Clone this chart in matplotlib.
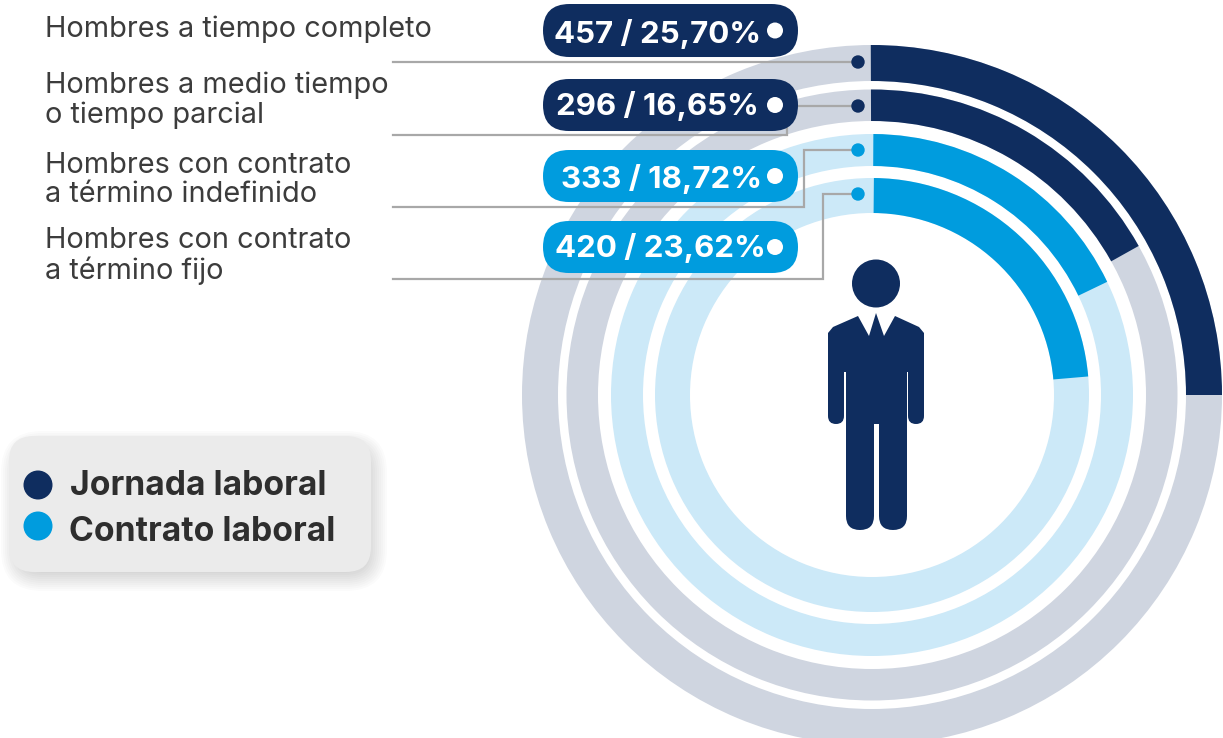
#!/usr/bin/env python
#-*- coding: utf-8 -*-

import matplotlib
matplotlib.use('Agg')
import matplotlib.pyplot as plt
from matplotlib.patches import Wedge, Circle, FancyBboxPatch, Polygon

# valeurs
lignes = ['Hombres a tiempo completo', 'Hombres a medio tiempo', 'o tiempo parcial',
	'Hombres con contrato', 'a término indefinido', 'Hombres con contrato', 'a término fijo']
lignes_y = [37, 93, 123, 173, 202, 248, 279]
textes_pastille = ['457 / 25,70%', '296 / 16,65%', '333 / 18,72%', '420 / 23,62%']
depart = [-0.2, -0.2, 0.3, 0.5]     # debut de chaque arc, en degres
balayage = [90.2, 61, 64, 84.6]     # angle dessine de chaque arc, en degres
legende = ['Jornada laboral', 'Contrato laboral']

MARINE = '#0F2D5F'
BLEU = '#009CDE'
GRIS = '#CFD5E0'
CIEL = '#CCE9F8'
TRAIT = '#A8A8A8'
POLICE = 'Inter'

couleurs_arc = [MARINE, MARINE, BLEU, BLEU]
couleurs_fond = [GRIS, GRIS, CIEL, CIEL]
rayons = [(350, 314), (305.5, 274), (261, 229), (217, 182)]
cx, cy = 872, 395

fig = plt.figure(figsize=(12.23, 7.38), dpi=100)
ax = fig.add_axes([0, 0, 1, 1])
ax.set_xlim(0, 1223)
ax.set_ylim(738, 0)
ax.axis('off')

# anneaux
for i in range(4):
	ext, inte = rayons[i]
	debut = -90+depart[i]
	ax.add_patch(Wedge((cx, cy), ext, 0, 360, width=ext-inte, color=couleurs_fond[i], lw=0, zorder=1))
	ax.add_patch(Wedge((cx, cy), ext, debut, debut+balayage[i], width=ext-inte, color=couleurs_arc[i], lw=0, zorder=2))

# traits de rappel
traits = [([393, 858], [62, 62]),
	([393, 787, 787, 858], [135, 135, 106, 106]),
	([393, 804, 804, 858], [207, 207, 150, 150]),
	([393, 823, 823, 858], [279, 279, 194, 194])]
for i in range(4):
	ax.plot(traits[i][0], traits[i][1], color=TRAIT, lw=1.6, zorder=3, solid_joinstyle='miter')
	ax.add_patch(Circle((858, traits[i][1][-1]), 6.7, color=couleurs_arc[i], lw=0, zorder=4))

# pastilles
haut = [4, 79, 150, 221]
bas = [57, 131, 202, 273]
base_txt = [43, 115, 188, 257]
centre_txt = [657.5, 657.5, 662, 660.5]
for i in range(4):
	h = bas[i]-haut[i]
	ax.add_patch(FancyBboxPatch((543+h/2, haut[i]+h/2), 255-h, 0.01, boxstyle='round,pad=%f,rounding_size=%f' % (h/2, h/2),
		mutation_aspect=1, color=couleurs_arc[i], lw=0, zorder=5))
	ax.add_patch(Circle((775, (haut[i]+bas[i])/2), 8, color='white', lw=0, zorder=6))
	ax.text(centre_txt[i], base_txt[i], textes_pastille[i], color='white', fontsize=22.5, fontweight='bold',
		family=POLICE, ha='center', va='baseline', zorder=6)

# etiquettes de gauche
for i in range(len(lignes)):
	ax.text(45, lignes_y[i], lignes[i], color='#3C3C3C', fontsize=20.8, family=POLICE, ha='left', va='baseline', zorder=6)

# ombre et fond de la legende
for k in range(12):
	m = 16-k*2
	ax.add_patch(FancyBboxPatch((9+25+8, 436+25+11), 362-50-8, 136-50-8, boxstyle='round,pad=%f,rounding_size=%f' % (25+m, 25+max(m, 0)),
		color='#000000', alpha=0.016, lw=0, zorder=0.5))
ax.add_patch(FancyBboxPatch((9+25, 436+25), 362-50, 136-50, boxstyle='round,pad=25,rounding_size=25', color='#EBEBEB', lw=0, zorder=1))
ax.add_patch(Circle((38, 485), 14.5, color=MARINE, lw=0, zorder=2))
ax.add_patch(Circle((38, 526), 14.5, color=BLEU, lw=0, zorder=2))
ax.text(70, 495, legende[0], color='#2E2E2E', fontsize=24.2, fontweight='bold', family=POLICE, va='baseline', zorder=2)
ax.text(69, 541, legende[1], color='#2E2E2E', fontsize=24.2, fontweight='bold', family=POLICE, va='baseline', zorder=2)

# le bonhomme
ax.add_patch(Circle((876, 283.5), 24, color=MARINE, lw=0, zorder=3))
corps = [(858, 316), (869, 336), (876, 313), (884, 336), (895, 316), (919, 327), (924, 333), (924, 372),
	(907, 372), (907, 424), (846, 424), (846, 372), (828, 372), (828, 333), (833, 327)]
ax.add_patch(Polygon(corps, closed=True, color=MARINE, lw=0, zorder=3))
for x0, x1 in [(828, 844), (908, 924)]:
	ax.add_patch(FancyBboxPatch((x0+8, 368), x1-x0-16, 48, boxstyle='round,pad=8,rounding_size=8', color=MARINE, lw=0, zorder=3))
for x0, x1 in [(846, 874), (879, 907)]:
	ax.add_patch(FancyBboxPatch((x0+14, 414), x1-x0-28, 102, boxstyle='round,pad=14,rounding_size=14', color=MARINE, lw=0, zorder=3))

plt.savefig('out.png', dpi=100)
